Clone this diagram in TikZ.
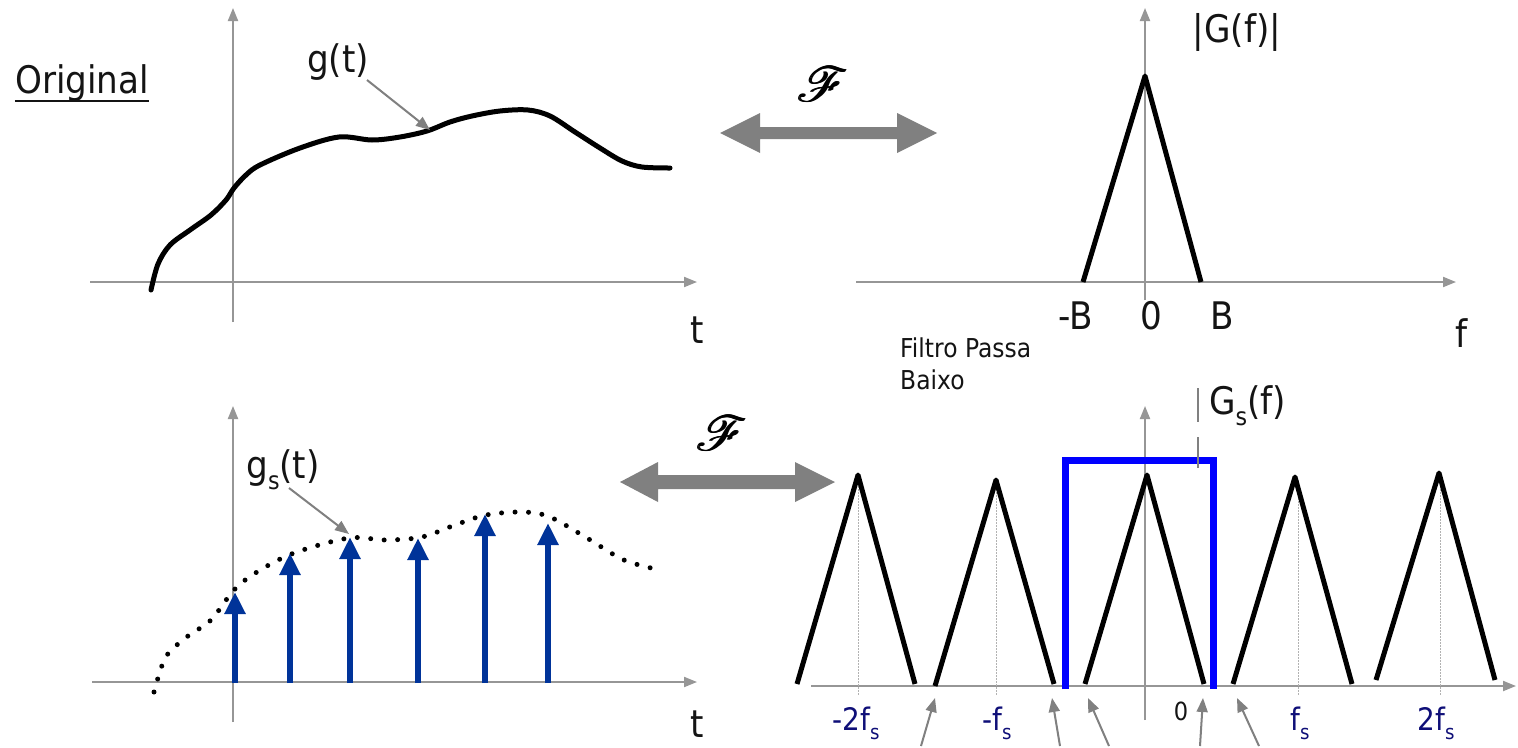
\documentclass[tikz,border=0pt]{standalone}
\usepackage{fontspec}
\setmainfont{DejaVu Sans}[FakeStretch=0.9]
\usepackage{mathrsfs}
\usetikzlibrary{arrows.meta}
\definecolor{axisgray}{RGB}{150,150,150}
\definecolor{arrgray}{RGB}{128,128,128}
\definecolor{impblue}{RGB}{0,51,153}
\definecolor{rectblue}{RGB}{0,0,255}
\definecolor{labnavy}{RGB}{15,15,120}
\definecolor{txtgray}{RGB}{20,20,20}
\newcommand{\lowsub}[1]{\raisebox{-0.3em}{\scalebox{0.65}{#1}}}
\newcommand{\boldscriptF}{\scalebox{4.9}{\rlap{$\mathscr{F}$}\kern0.25pt\rlap{$\mathscr{F}$}\kern0.2pt$\mathscr{F}$}}
\tikzset{
  axisline/.style={draw=axisgray, line width=2pt, -{Triangle[length=13pt,width=10pt]}},
  axisplain/.style={draw=axisgray, line width=2pt},
  signal/.style={draw=black, line width=5pt, line cap=round, line join=round},
  dotcurve/.style={draw=black, line width=5pt, line cap=round, dash pattern=on 0pt off 13.5pt},
  spectrum/.style={draw=black, line width=5pt, line join=round},
  centerline/.style={draw=gray!60, line width=1pt, dash pattern=on 1.5pt off 1.5pt},
  impulse/.style={draw=impblue, line width=6pt, -{Triangle[length=22pt,width=20pt]}},
  pointer/.style={draw=arrgray, line width=2pt, -{Triangle[length=14pt,width=11pt]}},
  bigarrow/.style={fill=arrgray, draw=none},
  lbl/.style={inner sep=0pt, text=txtgray, font=\fontsize{38}{44}\selectfont},
  small/.style={inner sep=0pt, text=txtgray, font=\fontsize{26}{30}\selectfont},
  navylbl/.style={inner sep=0pt, text=labnavy, font=\fontsize{31}{36}\selectfont},
  fourier/.style={inner sep=0pt},
  filterbox/.style={draw=rectblue, line width=7pt, line join=miter}
}
\begin{document}
\begin{tikzpicture}[x=1pt,y=-1pt]
\path[use as bounding box, fill=white] (0,0) rectangle (1518,747);

% ---------- top-left: g(t) ----------
\draw[axisline] (90,282) -- (697,282);
\draw[axisline] (233,322) -- (233,8);
\node[lbl, anchor=base] (orig) at (82,93) {Original};
\draw[line width=2pt, txtgray] ([yshift=-8pt]orig.base west) -- ([yshift=-8pt]orig.base east);
\draw[signal] plot[smooth, tension=0.55] coordinates {
  (151,290) (158,264) (170,245) (190,230) (211,215) (226,200) (234,188) (246,175) (260,165)
  (300,148) (339,137) (372,140) (400,137) (427,131) (450,122) (472,116) (500,111) (528,110)
  (550,116) (575,132) (600,148) (622,161) (642,167) (670,168)};
\node[lbl] (gt) at (338,62) {g(t)};
\coordinate (gtail) at (367,80);
\coordinate (gtip) at (430,130);
\draw[pointer] (gtail) -- (gtip);
\node[lbl] (t1) at (697,330) {t};

% ---------- top Fourier arrow ----------
\node[fourier] (F1) at (823,84) {\boldscriptF};
\fill[bigarrow] (720,133) -- (760,113) -- (760,127) -- (897,127) -- (897,113) -- (937,133)
  -- (897,153) -- (897,139) -- (760,139) -- (760,153) -- cycle;

% ---------- top-right: |G(f)| ----------
\draw[axisline] (856,282) -- (1456,282);
\draw[axisline] (1145,300) -- (1145,8);
\draw[spectrum] (1083,282) -- (1145,76) -- (1201,282);
\node[lbl] (Gf) at (1237,32) {|G(f)|};
\node[lbl] (mB) at (1076,316) {-B};
\node[lbl] (zero1) at (1151,316) {0};
\node[lbl] (pB) at (1222,316) {B};
\node[lbl] (f1) at (1462,333) {f};
\node[small, anchor=base west] (filt1) at (900,357) {Filtro Passa};
\node[small, anchor=base west] (filt2) at (900,389) {Baixo};

% ---------- bottom-left: g_s(t) ----------
\draw[axisline] (92,682) -- (697,682);
\draw[axisline] (233,722) -- (233,406);
\draw[dotcurve] plot[smooth, tension=0.55] coordinates {
  (154,692) (158,678) (167,655) (188,636) (211,620) (234,590) (257,572) (294,553)
  (349,538) (385,540) (422,537) (455,525) (486,515) (523,512) (550,517) (587,538)
  (624,560) (660,570)};
\foreach \x/\y [count=\i] in {235/592, 290/553, 350/537, 418/538, 485/514, 548/523} {
  \coordinate (ib\i) at (\x,683);
  \coordinate (it\i) at (\x,\y);
  \draw[impulse] (ib\i) -- (it\i);
}
\node[lbl] (gst) at (283,470) {g\lowsub{s}(t)};
\coordinate (gstail) at (289,488);
\coordinate (gstip) at (349,534);
\draw[pointer] (gstail) -- (gstip);
\node[lbl, anchor=base] (t2) at (697,737) {t};

% ---------- bottom Fourier arrow ----------
\node[fourier] (F2) at (722,433) {\boldscriptF};
\fill[bigarrow] (620,482) -- (658,462) -- (658,475) -- (795,475) -- (795,462) -- (835,482)
  -- (795,502) -- (795,489) -- (658,489) -- (658,502) -- cycle;

% ---------- bottom-right: |G_s(f)| ----------
\draw[axisline] (811,686) -- (1516,686);
\draw[axisplain] (1145,720) -- (1145,420);
\draw[axisline] (1145,430) -- (1145,406);
\foreach \c in {858, 996, 1298, 1440} {
  \draw[centerline] (\c,480) -- (\c,696);
}
\draw[spectrum] (797,684) -- (858,475) -- (915,684);
\draw[spectrum] (935,686) -- (996,480) -- (1054,684);
\draw[spectrum] (1085,684) -- (1147,475) -- (1204,684);
\draw[spectrum] (1233,684) -- (1295,477) -- (1352,684);
\draw[spectrum] (1376,680) -- (1439,473) -- (1495,680);
\draw[filterbox] (1065,689) -- (1065,460) -- (1213,460) -- (1213,689);
\draw[draw=arrgray, line width=2.5pt] (1198,388) -- (1198,422);
\draw[draw=arrgray, line width=2.5pt] (1198,437) -- (1198,468);
\node[lbl, anchor=west] (Gsf) at (1209,406) {G\lowsub{s}(f)};
\node[navylbl, anchor=base] (m2fs) at (856,730) {-2f\lowsub{s}};
\node[navylbl, anchor=base] (mfs) at (997,730) {-f\lowsub{s}};
\node[navylbl, anchor=base] (pfs) at (1300,730) {f\lowsub{s}};
\node[navylbl, anchor=base] (p2fs) at (1436,730) {2f\lowsub{s}};
\node[inner sep=0pt, text=txtgray, font=\fontsize{25}{30}\selectfont] (zero2) at (1181,711) {0};
\foreach \tx/\hx [count=\i] in {921/935, 1060/1052, 1109/1088, 1200/1203, 1259/1237} {
  \coordinate (pt\i) at (\tx,746);
  \coordinate (ph\i) at (\hx,698);
  \draw[pointer] (pt\i) -- (ph\i);
}
\end{tikzpicture}
\end{document}
